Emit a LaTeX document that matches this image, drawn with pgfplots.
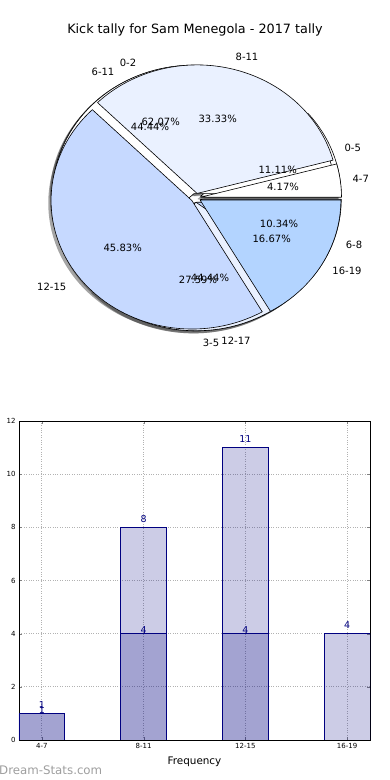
\documentclass[border=0pt]{standalone}
\usepackage{pgfplots}
\pgfplotsset{compat=1.18}
\usepackage{pgfplotstable}
\usepackage{fontspec}
\setmainfont{DejaVu Sans}

\definecolor{pw}{HTML}{FFFFFF}
\definecolor{pl}{HTML}{EAF1FF}
\definecolor{pm}{HTML}{C6D9FF}
\definecolor{pb}{HTML}{B3D4FF}
\definecolor{navyb}{HTML}{000080}

% pie data (percent shares)
\pgfplotstableread{
label pct
4-7 4.17
8-11 33.33
12-15 45.83
16-19 16.67
}\pieSam
\pgfplotstableread{
label pct
0-5 11.11
6-11 44.44
12-17 44.44
}\pieB
\pgfplotstableread{
label pct
0-2 62.07
3-5 27.59
6-8 10.34
}\pieC

% bar data
\pgfplotstableread{
x total
0 1
1 8
2 11
3 4
}\barA
\pgfplotstableread{
x part
0 1
1 4
2 4
}\barB

\def\pcx{195.8}\def\pcy{582.2}\def\prx{140.8}\def\pry{128.5}\def\pex{0.035}

\gdef\shadowCmds{}
\gdef\wedgeCmds{}
\newcommand\buildpie[1]{%
  \pgfplotstablegetrowsof{#1}%
  \pgfmathtruncatemacro\lastrow{\pgfplotsretval-1}%
  \gdef\cumangle{0}%
  \foreach \i in {0,...,\lastrow}{%
    \pgfplotstablegetelem{\i}{pct}\of{#1}%
    \pgfmathsetmacro\wa{\cumangle}%
    \pgfmathsetmacro\wb{\cumangle+3.6*\pgfplotsretval}%
    \pgfmathsetmacro\wm{(\wa+\wb)/2}%
    \pgfmathsetmacro\wx{\pcx+\pex*\prx*cos(\wm)}%
    \pgfmathsetmacro\wy{\pcy+\pex*\pry*sin(\wm)}%
    \pgfmathsetmacro\sx{\wx-0.02*\prx}%
    \pgfmathsetmacro\sy{\wy-0.02*\pry}%
    \xdef\cumangle{\wb}%
    \ifcase\i \def\wc{pw}\or \def\wc{pl}\or \def\wc{pm}\else \def\wc{pb}\fi
    \xdef\shadowCmds{\unexpanded\expandafter{\shadowCmds}\noexpand\fill[black!70,opacity=0.5] (axis cs:\sx,\sy) -- ++(\wa:\prx pt and \pry pt) arc[start angle=\wa,end angle=\wb,x radius=\prx pt,y radius=\pry pt] -- cycle;}%
    \xdef\wedgeCmds{\unexpanded\expandafter{\wedgeCmds}\noexpand\filldraw[fill=\wc,draw=black,line width=0.6pt,line join=round] (axis cs:\wx,\wy) -- ++(\wa:\prx pt and \pry pt) arc[start angle=\wa,end angle=\wb,x radius=\prx pt,y radius=\pry pt] -- cycle;}%
  }%
}

\begin{document}
\buildpie{\pieB}\buildpie{\pieC}\buildpie{\pieSam}%
\begin{tikzpicture}
\useasboundingbox (0,0) rectangle (390pt,780pt);
% ---------- pie ----------
\begin{axis}[at={(0pt,0pt)}, anchor=south west, scale only axis,
  width=390pt, height=780pt, xmin=0, xmax=390, ymin=0, ymax=780,
  hide axis, clip=false]
\shadowCmds
\wedgeCmds
\begin{scope}[every node/.style={inner sep=0pt, font=\fontsize{10}{12}\selectfont}]
\node at (axis cs:160.7,658.3) {62.07\%};
\node at (axis cs:150,653) {44.44\%};
\node at (axis cs:217.7,661) {33.33\%};
\node at (axis cs:277.7,610) {11.11\%};
\node at (axis cs:283,593.3) {4.17\%};
\node at (axis cs:279,556) {10.34\%};
\node at (axis cs:271.7,540.7) {16.67\%};
\node at (axis cs:122.7,531.7) {45.83\%};
\node at (axis cs:198,500) {27.59\%};
\node at (axis cs:210,502.3) {44.44\%};
\node at (axis cs:247,723.3) {8-11};
\node at (axis cs:128,717) {0-2};
\node at (axis cs:103,708) {6-11};
\node at (axis cs:352.7,632) {0-5};
\node at (axis cs:360.7,601) {4-7};
\node at (axis cs:354,535) {6-8};
\node at (axis cs:347,509) {16-19};
\node at (axis cs:51.7,493) {12-15};
\node at (axis cs:211,437.3) {3-5};
\node at (axis cs:236,439) {12-17};
\end{scope}
\node[inner sep=0pt, font=\fontsize{12.8}{15}\selectfont] at (axis cs:195,750) {Kick tally for Sam Menegola - 2017 tally};
\end{axis}
% ---------- bars ----------
\begin{axis}[at={(19pt,40pt)}, anchor=south west, scale only axis,
  width=351pt, height=319pt,
  xmin=-0.225, xmax=3.225, ymin=0, ymax=12,
  xtick={0,1,2,3}, xticklabels={4-7,8-11,12-15,16-19},
  ytick={0,2,4,6,8,10,12},
  xmajorgrids, ymajorgrids,
  grid style={dotted, black!30, line width=0.8pt},
  tick align=inside, major tick length=3pt,
  ticklabel style={font=\fontsize{7}{8}\selectfont},
  /pgf/number format/assume math mode=true,
  xlabel={Frequency},
  xlabel style={font=\fontsize{10.4}{12}\selectfont, inner sep=0pt, yshift=-5pt},
  axis line style={line width=0.8pt},
  every node near coord/.append style={text=navyb, fill opacity=1, text opacity=1, inner sep=0pt, anchor=south, font=\fontsize{9.5}{10}\selectfont},
]
\addplot[ybar, bar width=0.45, bar shift=0pt, fill=navyb, fill opacity=0.2, draw=navyb, line width=0.8pt,
  nodes near coords, nodes near coords style={yshift=4.4pt}] table[x=x, y=total] {\barA};
\addplot[ybar, bar width=0.45, bar shift=0pt, fill=navyb, fill opacity=0.2, draw=navyb, line width=0.8pt,
  nodes near coords, nodes near coords style={yshift=-0.6pt}] table[x=x, y=part] {\barB};
\end{axis}
\node[anchor=west, inner sep=0pt, text=black!38, font=\fontsize{11.8}{14}\selectfont] at (-1pt,10pt) {Dream-Stats.com};
\end{tikzpicture}
\end{document}
